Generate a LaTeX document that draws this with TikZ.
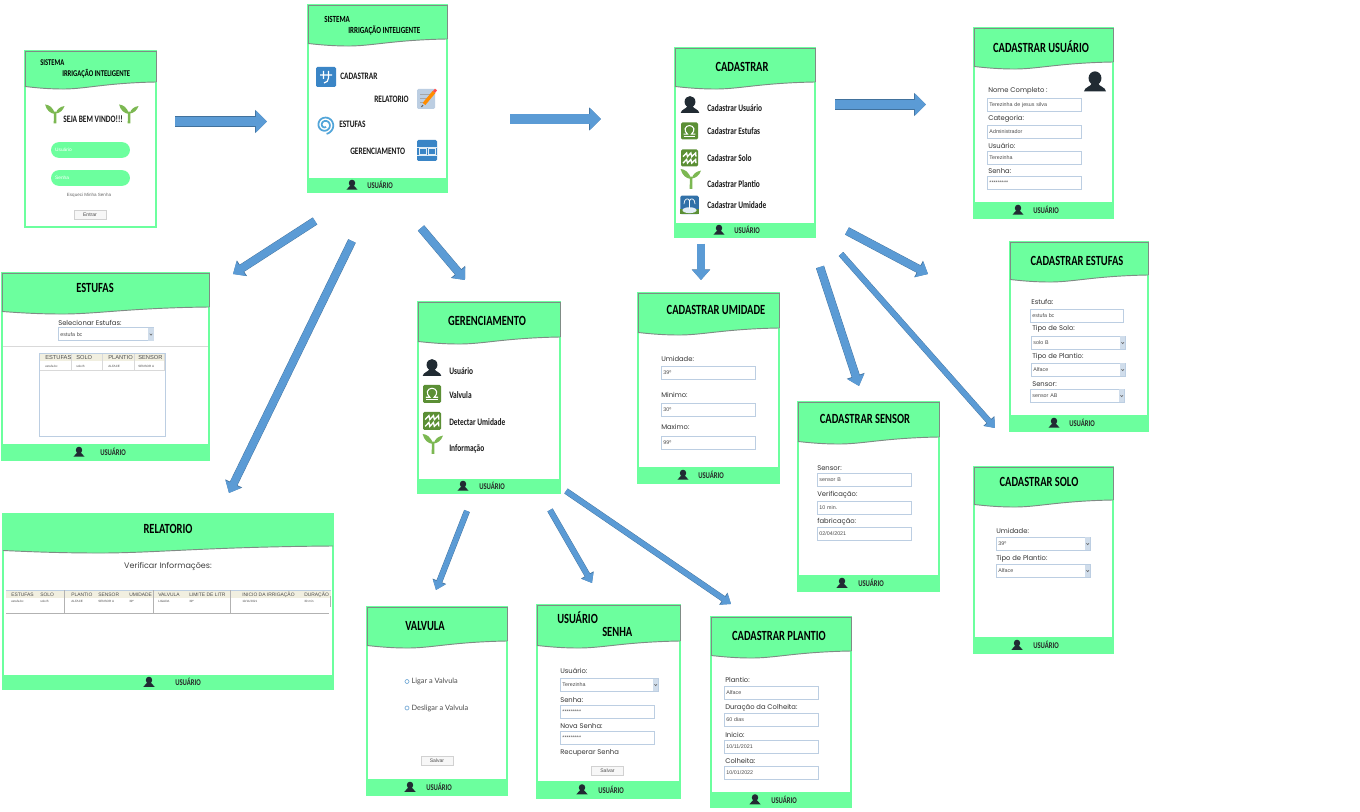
\documentclass[tikz,border=0pt]{standalone}
\usepackage{fontspec}
\usepackage{tikz}
\usetikzlibrary{positioning, calc, fit, arrows.meta}
\newfontfamily\handfont[FakeStretch=0.75]{Carlito}
\newfontfamily\roundfont{Poppins}
\newfontfamily\inputfont{Liberation Sans}
\newfontfamily\radiofont{Lato}
\definecolor{screengreen}{HTML}{6CFF9E}
\definecolor{edgegray}{HTML}{7F8C85}
\definecolor{arrowblue}{HTML}{5B9BD5}
\definecolor{arrowedge}{HTML}{41719C}
\definecolor{persondark}{HTML}{212B33}
\definecolor{fieldedge}{HTML}{BCCEE2}
\definecolor{iconblue}{HTML}{3A85C6}
\definecolor{iconolive}{HTML}{5B8F35}
\definecolor{sproutgreen}{HTML}{7CB852}
\definecolor{tablebeige}{HTML}{F1EFE0}
\tikzstyle{Arrow} = [
%block arrows between the screens:
preaction={draw=arrowedge, line width=7.8pt, -{Triangle[length=9pt,width=17pt]}},
draw=arrowblue, line width=7.2pt, -{Triangle[length=8.4pt,width=16pt]}
]
\tikzstyle{ArrowMid} = [
preaction={draw=arrowedge, line width=6.3pt, -{Triangle[length=8pt,width=13.5pt]}},
draw=arrowblue, line width=5.7pt, -{Triangle[length=7.4pt,width=12.6pt]}
]
\tikzstyle{ArrowThin} = [
preaction={draw=arrowedge, line width=4.6pt, -{Triangle[length=7pt,width=10.5pt]}},
draw=arrowblue, line width=4pt, -{Triangle[length=6.4pt,width=9.6pt]}
]
%screen with green header and wavy lower edge
\newcommand{\Screen}[7][edgegray]{
	\node[screenbox, fit={(#3,#4)(#5,#6)}] (#2) {};
	\fill[screengreen] (#3,#4) -- (#5,#4) -- (#5,#7)
		.. controls ({#3+0.6*(#5-#3)},{#7+1}) and ({#3+0.45*(#5-#3)},{#7+7.5}) .. ({#3+0.27*(#5-#3)},{#7+7})
		.. controls ({#3+0.15*(#5-#3)},{#7+6.8}) and ({#3+0.07*(#5-#3)},{#7+5.5}) .. (#3,{#7+4.5}) -- cycle;
	\draw[#1, line width=0.7pt] (#3,{#7+4.5}) -- (#3,#4) -- (#5,#4) -- (#5,#7);
	\draw[edgegray, line width=0.7pt] (#5,#7)
		.. controls ({#3+0.6*(#5-#3)},{#7+1}) and ({#3+0.45*(#5-#3)},{#7+7.5}) .. ({#3+0.27*(#5-#3)},{#7+7})
		.. controls ({#3+0.15*(#5-#3)},{#7+6.8}) and ({#3+0.07*(#5-#3)},{#7+5.5}) .. (#3,{#7+4.5});
}
%footer bar: x1, top, x2, bottom, person x, text x
\newcommand{\Footbar}[7]{
	\fill[screengreen] (#2,#3) rectangle (#4,#5);
	\Person{#6}{{(#3+#5)/2}}{9.5}
	\node[footlabel] (#1) at (#7,{(#3+#5)/2}) {USUÁRIO};
}
\newcommand{\Person}[3]{
	\begin{scope}[shift={(#1,#2)}, scale=#3]
		\fill[persondark] (0,-0.2) ellipse [x radius=0.34, y radius=0.36];
		\fill[persondark] (-0.58,0.5) .. controls (-0.55,0.25) and (-0.2,0.25) .. (-0.16,0.05) -- (0.16,0.05) .. controls (0.2,0.25) and (0.55,0.25) .. (0.58,0.5) -- cycle;
	\end{scope}
}
\newcommand{\Sprout}[3]{
	\begin{scope}[shift={(#1,#2)}, scale=#3]
		\fill[sproutgreen] (-0.07,0.5) -- (0.07,0.5) -- (0.07,0) -- (0.05,-0.12) -- (-0.05,-0.12) -- cycle;
		\fill[sproutgreen] (0,0) .. controls (-0.1,-0.35) and (-0.3,-0.48) .. (-0.52,-0.5) .. controls (-0.45,-0.2) and (-0.25,-0.02) .. (0,0) -- cycle;
		\fill[sproutgreen] (0.03,-0.02) .. controls (0.1,-0.25) and (0.25,-0.38) .. (0.5,-0.42) .. controls (0.42,-0.18) and (0.25,-0.05) .. (0.03,-0.02) -- cycle;
	\end{scope}
}
\newcommand{\OmegaIcon}[3]{
	\begin{scope}[shift={(#1,#2)}, scale=#3]
		\fill[iconolive, rounded corners=1pt] (-0.5,-0.5) rectangle (0.5,0.5);
		\draw[white, line width=0.8pt] (-0.34,0.18) -- (-0.12,0.18) .. controls (-0.38,-0.03) and (-0.25,-0.32) .. (0,-0.32) .. controls (0.25,-0.32) and (0.38,-0.03) .. (0.12,0.18) -- (0.34,0.18);
		\draw[white, line width=0.8pt] (-0.34,0.33) -- (0.34,0.33);
	\end{scope}
}
\newcommand{\WaveIcon}[3]{
	\begin{scope}[shift={(#1,#2)}, scale=#3]
		\fill[iconolive, rounded corners=1pt] (-0.5,-0.5) rectangle (0.5,0.5);
		\draw[white, line width=1pt] (-0.38,-0.08) -- (-0.17,-0.3) -- (-0.12,-0.08) -- (0.08,-0.3) -- (0.13,-0.08) -- (0.36,-0.3) -- (0.38,-0.08);
		\draw[white, line width=1pt] (-0.38,0.3) -- (-0.17,0.08) -- (-0.12,0.3) -- (0.08,0.08) -- (0.13,0.3) -- (0.36,0.08) -- (0.38,0.3);
	\end{scope}
}
\newcommand{\FountainIcon}[3]{
	\begin{scope}[shift={(#1,#2)}, scale=#3]
		\fill[iconblue!85!black, rounded corners=1pt] (-0.5,-0.5) rectangle (0.5,0.5);
		\fill[iconolive] (-0.5,0.22) rectangle (0.5,0.5);
		\fill[white!85!iconblue] (0,0.28) ellipse [x radius=0.38, y radius=0.16];
		\draw[white, line width=0.5pt] (0,0.2) -- (0,-0.2) (-0.3,-0.05) .. controls (-0.3,-0.4) and (0,-0.4) .. (0,-0.2) .. controls (0,-0.4) and (0.3,-0.4) .. (0.3,-0.05);
	\end{scope}
}
\begin{document}
\begin{tikzpicture}[
		x=0.75pt, y=-0.75pt,
		screenbox/.style = {rectangle, draw=screengreen, line width=0.85pt, fill=white, inner sep=0pt},
		footlabel/.style = {anchor=west, inner sep=0pt, font=\handfont\bfseries\fontsize{6.6}{7}\selectfont, text=black!85},
		title/.style = {inner sep=0pt, font=\handfont\bfseries\fontsize{10.5}{11}\selectfont},
		brand/.style = {anchor=west, inner sep=0pt, font=\handfont\bfseries\fontsize{6.6}{7}\selectfont},
		menuitem/.style = {anchor=west, inner sep=0pt, font=\handfont\bfseries\fontsize{7.4}{8}\selectfont, text=black!90},
		fieldlabel/.style = {anchor=west, inner sep=0pt, font=\roundfont\fontsize{5.1}{6}\selectfont, text=black!80},
		field/.style = {rectangle, draw=fieldedge, line width=0.7pt, fill=white, anchor=north west, minimum height=9.75pt, text width=#1, inner xsep=1.5pt, inner ysep=0pt, align=left, font=\inputfont\fontsize{4}{5}\selectfont, text=black!70},
		field/.default = 67.5pt,
		button/.style = {rectangle, draw=black!18, line width=0.5pt, fill=black!3, minimum width=24pt, minimum height=6.75pt, inner sep=0pt, font=\inputfont\fontsize{3.8}{4}\selectfont, text=black!70},
		pill/.style = {rectangle, fill=screengreen, rounded corners=5.9pt, minimum width=59.2pt, minimum height=11.8pt, text width=53pt, align=left, inner xsep=3pt, inner ysep=0pt, font=\inputfont\fontsize{3.6}{4}\selectfont, text=white},
		headcell/.style = {anchor=west, inner sep=0pt, font=\inputfont\fontsize{4.3}{5}\selectfont, text=black!70},
		rowcell/.style = {anchor=west, inner sep=0pt, font=\inputfont\fontsize{2.3}{3}\selectfont, text=black!70},
		radiolabel/.style = {anchor=west, inner sep=0pt, font=\radiofont\fontsize{5.5}{6}\selectfont, text=black!70},
	]
	\useasboundingbox (0,0) rectangle (1360,812);
	\fill[white] (0,0) rectangle (1360,812);

	% dropdown arrow of a select box
	\newcommand{\Drop}[1]{
		\fill[fieldedge!70] ($(#1.north east)+(-6,0.5)$) rectangle ($(#1.south east)+(-0.5,-0.5)$);
		\draw[black!60, line width=0.4pt] ($(#1.east)+(-4.5,-0.8)$) -- ($(#1.east)+(-3.2,0.8)$) -- ($(#1.east)+(-2,-0.8)$);
	}

	% login
	\Screen{login}{25}{51}{156}{227}{82}
	\node[brand] (loginBrandA) at (40,63) {SISTEMA};
	\node[brand] (loginBrandB) at (62,74) {IRRIGAÇÃO INTELIGENTE};
	\Sprout{55}{114}{19}
	\Sprout{129}{114}{19}
	\node[menuitem] (loginHello) at (63,119) {SEJA BEM VINDO!!!};
	\node[pill] (loginUser) at (90.5,150) {Usuário};
	\node[pill] (loginPass) at (90.5,178) {Senha};
	\node[inner sep=0pt, font=\inputfont\fontsize{3.4}{5}\selectfont, text=black!60] (loginForgot) at (89,195) {Esqueci Minha Senha};
	\node[button] (loginBtn) at (90,215) {Entrar};

	% menu
	\Screen{menu}{308}{5}{447}{192}{39}
	\node[brand, font=\handfont\bfseries\fontsize{7}{7}\selectfont] (menuBrandA) at (324,19) {SISTEMA};
	\node[brand, font=\handfont\bfseries\fontsize{7}{7}\selectfont] (menuBrandB) at (348,30) {IRRIGAÇÃO INTELIGENTE};
	\fill[iconblue, rounded corners=1pt] (316,67) rectangle (336,87);
	\draw[white, line width=0.9pt] (320,75) -- (332,75) (323.5,71) -- (323.5,79) (328.5,71) -- (328.5,78) .. controls (328.5,81) and (326.5,82.5) .. (324,83);
	\node[menuitem] (menuCad) at (340,76) {CADASTRAR};
	\node[menuitem] (menuRel) at (374,99) {RELATORIO};
	\fill[fieldedge, rounded corners=1pt] (417,89) rectangle (435,109);
	\draw[black!35, line width=0.5pt] (420,94) -- (430,94) (420,98) -- (428,98) (420,102) -- (426,102);
	\draw[orange!90!yellow, line width=2.6pt] (424,104) -- (434,92);
	\draw[red!70, line width=2pt] (434,92) -- (436,89.5);
	\draw[black!60, line width=0.8pt] (421.5,107) -- (423,105);
	\draw[arrowblue!90!cyan, line width=1.3pt] plot[domain=60:800, samples=60, smooth] ({325+(1.5+\x/800*7.5)*cos(\x)},{125+(1.5+\x/800*7.5)*sin(\x)});
	\node[menuitem] (menuEst) at (339,124) {ESTUFAS};
	\node[menuitem] (menuGer) at (350,151) {GERENCIAMENTO};
	\fill[iconblue, rounded corners=1pt] (417,140) rectangle (437,161);
	\draw[white!85!iconblue, line width=0.6pt] (417,147) -- (437,147) (417,155) -- (437,155) (419,148) rectangle (426,154) (428,148) rectangle (435,154);
	\Footbar{menuFoot}{308}{178}{447}{192}{352}{367}

	% cadastrar
	\Screen{cad}{675}{48}{815}{237}{82}
	\node[title] (cadTitle) at (742,67) {CADASTRAR};
	\Person{690}{105}{16}
	\node[menuitem] (cadUser) at (707,108) {Cadastrar Usuário};
	\OmegaIcon{689.5}{131}{17}
	\node[menuitem] (cadEst) at (707,131) {Cadastrar Estufas};
	\WaveIcon{689.5}{158}{17}
	\node[menuitem] (cadSolo) at (707,158) {Cadastrar Solo};
	\Sprout{691}{179}{20}
	\node[menuitem] (cadPlant) at (707,184) {Cadastrar Plantio};
	\FountainIcon{689.5}{205}{18.5}
	\node[menuitem] (cadUmid) at (707,205) {Cadastrar Umidade};
	\Footbar{cadFoot}{675}{223}{815}{237}{719}{734}

	% cadastrar usuario
	\Screen{user}{974}{28}{1113}{218}{62}
	\node[title] (userTitle) at (1041,47) {CADASTRAR USUÁRIO};
	\Person{1095}{82}{19}
	\node[fieldlabel] (userL1) at (988,91) {Nome Completo :};
	\node[field] (userF1) at (987,98) {Terezinha de jesus silva};
	\node[fieldlabel] (userL2) at (988,119) {Categoria:};
	\node[field] (userF2) at (987,125) {Administrador};
	\node[fieldlabel] (userL3) at (988,146) {Usuário:};
	\node[field] (userF3) at (987,151) {Terezinha};
	\node[fieldlabel] (userL4) at (988,171) {Senha:};
	\node[field] (userF4) at (987,176) {*********};
	\Footbar{userFoot}{974}{202}{1113}{218}{1018}{1033}

	% estufas
	\Screen{est}{2}{273}{209}{460}{307}
	\node[title] (estTitle) at (95,288) {ESTUFAS};
	\node[fieldlabel] (estL1) at (58,323) {Selecionar Estufas:};
	\node[field=68.5pt] (estF1) at (58,327.5) {estufa bc};
	\Drop{estF1}
	\draw[black!15, line width=0.5pt] (3,346) -- (208,346);
	\node[rectangle, draw=fieldedge, line width=0.6pt, fit={(39.5,353.5)(165.5,436.5)}, inner sep=0pt] (estTable) {};
	\fill[tablebeige] (40,354) rectangle (165,361);
	\foreach \colx in {71,102,134,164}
		\draw[black!15, line width=0.4pt] (\colx,354) -- (\colx,370);
	\draw[black!15, line width=0.4pt] (40,370) -- (165,370);
	\foreach \colx/\headtxt/\rowtxt/\n in {45/ESTUFAS/estufa bc/1, 76/SOLO/solo B/2, 108/PLANTIO/ALFACE/3, 138/SENSOR/SENSOR A/4} {
		\node[headcell] (estH\n) at (\colx,358) {\headtxt};
		\node[rowcell] (estR\n) at (\colx,366) {\rowtxt};
	}
	\Footbar{estFoot}{2}{444}{209}{460}{79}{100}

	% relatorio
	\Screen[screengreen]{rel}{3}{514}{333}{689}{546}
	\node[title] (relTitle) at (168,529) {RELATORIO};
	\node[inner sep=0pt, font=\roundfont\fontsize{6}{8}\selectfont, text=black!75] (relSub) at (168,566) {Verificar Informações:};
	\fill[tablebeige] (6,591) rectangle (331,598);
	\draw[fieldedge, line width=0.4pt] (6,590.5) -- (331,590.5);
	\foreach \colx in {64,153,230}
		\draw[black!30, line width=0.4pt] (\colx,590) -- (\colx,613);
	\draw[black!30, line width=0.4pt] (330,596) -- (330,607);
	\draw[black!30, line width=0.5pt] (6,613) -- (329,613);
	\foreach \colx/\headtxt/\n in {11/ESTUFAS/1, 40/SOLO/2, 71/PLANTIO/3, 98/SENSOR/4, 129/UMIDADE/5, 158/VALVULA/6, 189/LIMITE DE LITR/7, 242/INICIO DA IRRIGAÇÃO/8, 304/DURAÇÃO/9}
		\node[rowcell, font=\inputfont\fontsize{3.7}{4}\selectfont] (relH\n) at (\colx,594.5) {\headtxt};
	\foreach \colx/\rowtxt/\n in {11/estufa bc/1, 40/solo B/2, 71/ALFACE/3, 98/SENSOR A/4, 129/39º/5, 158/LIGADA/6, 189/39º/7, 242/{10/11/2021}/8, 304/30 min/9}
		\node[rowcell] (relR\n) at (\colx,601.5) {\rowtxt};
	\Footbar{relFoot}{3}{675}{333}{689}{149}{175}

	% gerenciamento
	\Screen{ger}{418}{302}{560}{493}{337}
	\node[title] (gerTitle) at (487,321) {GERENCIAMENTO};
	\Person{432}{368}{16}
	\node[menuitem] (gerUser) at (449,371) {Usuário};
	\OmegaIcon{432}{394}{18}
	\node[menuitem] (gerValv) at (449,395) {Valvula};
	\WaveIcon{432}{421}{18}
	\node[menuitem] (gerUmid) at (449,422) {Detectar Umidade};
	\Sprout{433}{444}{20}
	\node[menuitem] (gerInfo) at (449,449) {Informação};
	\Footbar{gerFoot}{418}{479}{560}{493}{463}{479}

	% cadastrar umidade
	\Screen{umid}{638}{293}{779}{483}{328}
	\node[title] (umidTitle) at (716,310) {CADASTRAR UMIDADE};
	\node[fieldlabel] (umidL1) at (661,359) {Umidade:};
	\node[field] (umidF1) at (661,366) {39º};
	\node[fieldlabel] (umidL2) at (661,395) {Minimo:};
	\node[field] (umidF2) at (661,403) {30º};
	\node[fieldlabel] (umidL3) at (661,427) {Maximo:};
	\node[field] (umidF3) at (661,436) {99º};
	\Footbar{umidFoot}{638}{467}{779}{483}{683}{698}

	% cadastrar estufas
	\Screen{cest}{1010}{242}{1148}{431}{275}
	\node[title] (cestTitle) at (1077,261) {CADASTRAR ESTUFAS};
	\node[fieldlabel] (cestL1) at (1031,302) {Estufa:};
	\node[field=66.5pt] (cestF1) at (1030,309) {estufa bc};
	\node[fieldlabel] (cestL2) at (1032,329) {Tipo de Solo:};
	\node[field] (cestF2) at (1031,336) {solo B};
	\Drop{cestF2}
	\node[fieldlabel] (cestL3) at (1032,357) {Tipo de Plantio:};
	\node[field] (cestF3) at (1031,363) {Alface};
	\Drop{cestF3}
	\node[fieldlabel] (cestL4) at (1032,384) {Sensor:};
	\node[field] (cestF4) at (1030,389) {sensor AB};
	\Drop{cestF4}
	\Footbar{cestFoot}{1010}{415}{1148}{431}{1054}{1069}

	% cadastrar sensor
	\Screen{sens}{798}{402}{939}{591}{437}
	\node[title] (sensTitle) at (865,419) {CADASTRAR SENSOR};
	\node[fieldlabel] (sensL1) at (817,468) {Sensor:};
	\node[field] (sensF1) at (817,473) {sensor B};
	\node[fieldlabel] (sensL2) at (817,495) {Verificação:};
	\node[field] (sensF2) at (817,501) {10 min.};
	\node[fieldlabel] (sensL3) at (817,522) {fabricação:};
	\node[field] (sensF3) at (817,527) {02/04/2021};
	\Footbar{sensFoot}{798}{575}{939}{591}{842}{858}

	% cadastrar solo
	\Screen{solo}{974}{467}{1113}{653}{500}
	\node[title] (soloTitle) at (1039,482) {CADASTRAR SOLO};
	\node[fieldlabel] (soloL1) at (996,531) {Umidade:};
	\node[field] (soloF1) at (996,537) {39º};
	\Drop{soloF1}
	\node[fieldlabel] (soloL2) at (996,559) {Tipo de Plantio:};
	\node[field] (soloF2) at (996,564) {Alface};
	\Drop{soloF2}
	\Footbar{soloFoot}{974}{637}{1113}{653}{1017}{1033}

	% valvula
	\Screen{valv}{367}{607}{507}{795}{641}
	\node[title] (valvTitle) at (425,626) {VALVULA};
	\node[circle, draw=iconblue!70, line width=0.5pt, minimum size=3pt, inner sep=0pt] (valvR1) at (407,681.5) {};
	\node[radiolabel, right=1.5pt of valvR1] (valvL1) {Ligar a Valvula};
	\node[circle, draw=iconblue!70, line width=0.5pt, minimum size=3pt, inner sep=0pt] (valvR2) at (407,708) {};
	\node[radiolabel, right=1.5pt of valvR2] (valvL2) {Desligar a Valvula};
	\node[button] (valvBtn) at (437,760.5) {Salvar};
	\Footbar{valvFoot}{367}{779}{507}{795}{410}{426}

	% usuario senha
	\Screen{senha}{537}{605}{680}{798}{641}
	\node[title, anchor=west] (senhaTitleA) at (557,618) {USUÁRIO};
	\node[title, anchor=west] (senhaTitleB) at (602,632) {SENHA};
	\node[fieldlabel] (senhaL1) at (560,671) {Usuário:};
	\node[field=70.5pt] (senhaF1) at (560,678) {Terezinha};
	\Drop{senhaF1}
	\node[fieldlabel] (senhaL2) at (560,700) {Senha:};
	\node[field] (senhaF2) at (560,705) {*********};
	\node[fieldlabel] (senhaL3) at (560,726) {Nova Senha:};
	\node[field] (senhaF3) at (560,731) {*********};
	\node[fieldlabel] (senhaL4) at (560,753) {Recuperar Senha};
	\node[button] (senhaBtn) at (607.5,770.5) {Salvar};
	\Footbar{senhaFoot}{537}{781}{680}{798}{582}{598}

	% cadastrar plantio
	\Screen{plant}{711}{617}{851}{807}{651}
	\node[title] (plantTitle) at (779,636) {CADASTRAR PLANTIO};
	\node[fieldlabel] (plantL1) at (725,680) {Plantio:};
	\node[field] (plantF1) at (724,686) {Alface};
	\node[fieldlabel] (plantL2) at (725,708) {Duração da Colheita:};
	\node[field] (plantF2) at (724,713) {60 dias};
	\node[fieldlabel] (plantL3) at (725,735) {Inicio:};
	\node[field] (plantF3) at (724,740) {10/11/2021};
	\node[fieldlabel] (plantL4) at (725,761) {Colheita:};
	\node[field] (plantF4) at (724,766) {10/01/2022};
	\Footbar{plantFoot}{711}{792}{851}{807}{755}{771}

	% arrows
	\coordinate (loginOut) at (175,121.5);
	\coordinate (menuIn) at (267,121.5);
	\coordinate (menuOut) at (510,119);
	\coordinate (cadIn) at (601,119);
	\coordinate (cadOutA) at (835,104.5);
	\coordinate (userIn) at (926,104.5);
	\coordinate (menuOutB) at (315,221);
	\coordinate (estIn) at (233,274);
	\coordinate (menuOutC) at (352,241);
	\coordinate (relIn) at (229,493);
	\coordinate (menuOutD) at (421,228);
	\coordinate (gerIn) at (465,280);
	\coordinate (cadOutB) at (701,244);
	\coordinate (umidIn) at (701,280);
	\coordinate (cadOutC) at (847,231);
	\coordinate (cestIn) at (928,274);
	\coordinate (cadOutD) at (820,267);
	\coordinate (sensIn) at (859,386);
	\coordinate (cadOutE) at (841,254);
	\coordinate (soloIn) at (995,428);
	\coordinate (gerOutA) at (467,511);
	\coordinate (valvIn) at (436,590);
	\coordinate (gerOutB) at (550,510);
	\coordinate (senhaIn) at (592,583);
	\coordinate (gerOutC) at (566,491);
	\coordinate (plantIn) at (731,604);

	\draw[Arrow](loginOut)--(menuIn);
	\draw[Arrow](menuOut)--(cadIn);
	\draw[Arrow](cadOutA)--(userIn);
	\draw[ArrowMid](menuOutB)--(estIn);
	\draw[ArrowMid](menuOutC)--(relIn);
	\draw[ArrowMid](menuOutD)--(gerIn);
	\draw[ArrowMid](cadOutB)--(umidIn);
	\draw[ArrowMid](cadOutC)--(cestIn);
	\draw[ArrowMid](cadOutD)--(sensIn);
	\draw[ArrowThin](cadOutE)--(soloIn);
	\draw[ArrowThin](gerOutA)--(valvIn);
	\draw[ArrowThin](gerOutB)--(senhaIn);
	\draw[ArrowThin](gerOutC)--(plantIn);

\end{tikzpicture}
\end{document}
